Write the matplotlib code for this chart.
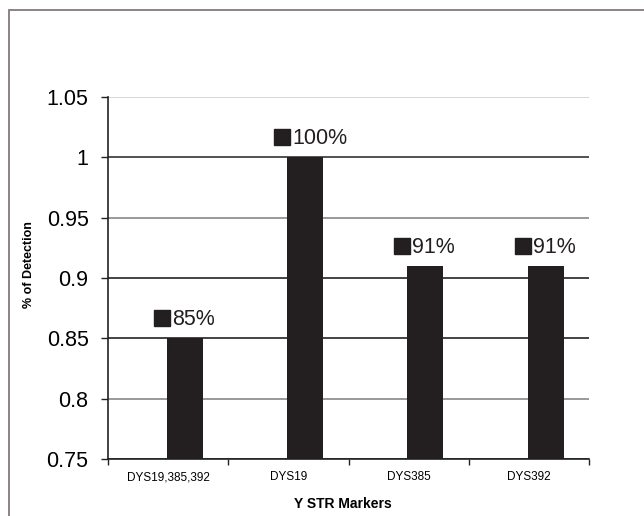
import matplotlib
matplotlib.use("Agg")
import matplotlib.pyplot as plt
from matplotlib.patches import Rectangle
from matplotlib.transforms import offset_copy

plt.rcParams['font.family'] = ['Liberation Sans', 'DejaVu Sans']

categories = ["DYS19,385,392", "DYS19", "DYS385", "DYS392"]
detection = [0.85, 1.00, 0.91, 0.91]
labels = ["85%", "100%", "91%", "91%"]
yticks = [0.75, 0.8, 0.85, 0.9, 0.95, 1.0, 1.05]
ytick_labels = ["0.75", "0.8", "0.85", "0.9", "0.95", "1", "1.05"]
grid_colors = ["#222222", "#888888", "#222222", "#222222", "#888888", "#333333", "#d0d0d0"]

W, H = 644, 516
fig = plt.figure(figsize=(W / 100, H / 100), dpi=100)
ax = fig.add_axes([108 / W, 1 - 459 / H, (589 - 108) / W, (459 - 97) / H])

# outer chart-area frame (left and top edges)
fig.patches.append(Rectangle((9 / W, -0.1), 1.2, (516 - 10) / H + 0.1,
                             transform=fig.transFigure, fill=False,
                             edgecolor="#857a78", linewidth=1.3))

bar_color = "#231f20"
xpos = [i + 0.14 for i in range(len(categories))]
ax.bar(xpos, detection, width=0.3, color=bar_color, zorder=3)

for yv, c in zip(yticks, grid_colors):
    ax.axhline(yv, color=c, linewidth=1.2, zorder=1)

ax.set_xlim(-0.5, 3.5)
ax.set_ylim(0.75, 1.05)
ax.set_yticks(yticks)
ax.set_yticklabels(ytick_labels, fontsize=15.5)
ax.tick_params(axis='y', length=5, width=1, pad=9, color="#222222")

# category boundary ticks and centred labels
ax.set_xticks([-0.5, 0.5, 1.5, 2.5, 3.5])
ax.set_xticklabels([])
ax.set_xticks(range(len(categories)), minor=True)
ax.set_xticklabels(categories, minor=True, fontsize=8.5)
ax.tick_params(axis='x', which='major', length=4, width=1, color="#222222")
ax.tick_params(axis='x', which='minor', length=0, pad=9)

for s in ["top", "right"]:
    ax.spines[s].set_visible(False)
for s in ["left", "bottom"]:
    ax.spines[s].set_color("#222222")
    ax.spines[s].set_linewidth(1.2)

ax.set_ylabel("% of Detection", fontsize=9, fontweight="bold")
ax.yaxis.set_label_coords(-0.152, 0.536)
ax.set_xlabel("Y STR Markers", fontsize=10, fontweight="bold")
ax.xaxis.set_label_coords(0.488, -0.105)

# value labels: black key square followed by percentage
for x, v, lab in zip(xpos, detection, labels):
    tr_sq = offset_copy(ax.transData, fig=fig, x=-23, y=20, units='dots')
    ax.plot([x], [v], marker='s', markersize=12, color=bar_color,
            transform=tr_sq, clip_on=False, zorder=4)
    tr_tx = offset_copy(ax.transData, fig=fig, x=-13, y=13, units='dots')
    ax.text(x, v, lab, fontsize=15.5, ha='left', va='baseline',
            transform=tr_tx, color="#231f20")

fig.savefig("out.png", dpi=100)
